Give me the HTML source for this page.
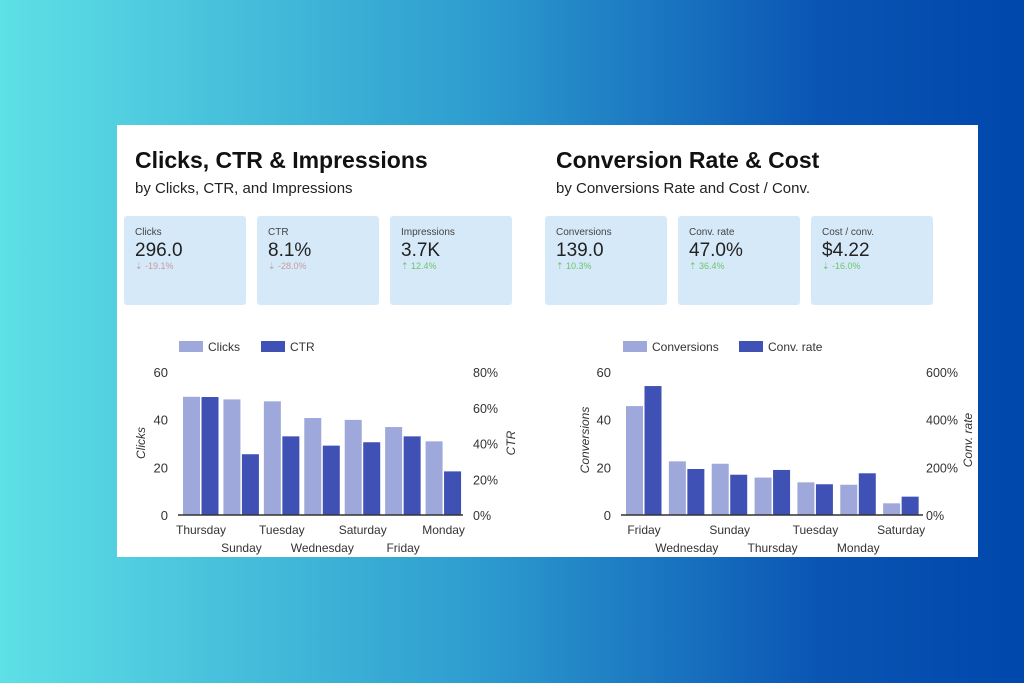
<!DOCTYPE html>
<html><head><meta charset="utf-8"><style>
body{margin:0;width:1024px;height:683px;overflow:hidden;background:linear-gradient(90deg,#5ee0e6 0%,#2f9fd0 45%,#0a55b4 80%,#0047ab 100%);font-family:"Liberation Sans",sans-serif;position:relative}
.card{position:absolute;left:117px;top:125px;width:861px;height:432px;background:#fff}
.t{position:absolute;font-weight:bold;font-size:23px;color:#111}
.s{position:absolute;font-size:15px;color:#222}
.k{position:absolute;width:122px;height:89px;background:#d6e9f9;border-radius:3px}
.k .l{position:absolute;left:11px;top:11px;font-size:10px;color:#444}
.k .v{position:absolute;left:11px;top:24px;font-size:19px;color:#222}
.k .d{position:absolute;left:11px;top:45px;font-size:9px}
svg{position:absolute;left:0;top:0}
</style></head><body>
<div class="card"></div>
<div class="t" style="left:135px;top:147px">Clicks, CTR &amp; Impressions</div>
<div class="s" style="left:135px;top:180px">by Clicks, CTR, and Impressions</div>
<div class="t" style="left:556px;top:147px">Conversion Rate &amp; Cost</div>
<div class="s" style="left:556px;top:180px">by Conversions Rate and Cost / Conv.</div>
<div class="k" style="left:124px;top:216px"><div class="l">Clicks</div><div class="v">296.0</div><div class="d" style="color:#c89b9b">⇣ -19.1%</div></div>
<div class="k" style="left:257px;top:216px"><div class="l">CTR</div><div class="v">8.1%</div><div class="d" style="color:#c89b9b">⇣ -28.0%</div></div>
<div class="k" style="left:390px;top:216px"><div class="l">Impressions</div><div class="v">3.7K</div><div class="d" style="color:#6cc36c">⇡ 12.4%</div></div>
<div class="k" style="left:545px;top:216px"><div class="l">Conversions</div><div class="v">139.0</div><div class="d" style="color:#6cc36c">⇡ 10.3%</div></div>
<div class="k" style="left:678px;top:216px"><div class="l">Conv. rate</div><div class="v">47.0%</div><div class="d" style="color:#6cc36c">⇡ 36.4%</div></div>
<div class="k" style="left:811px;top:216px"><div class="l">Cost / conv.</div><div class="v">$4.22</div><div class="d" style="color:#6cc36c">⇣ -16.0%</div></div>
<svg id="svg" width="1024" height="683"></svg>
<script>
const leftCats=["Thursday","Sunday","Tuesday","Wednesday","Saturday","Friday","Monday"];
const clicks=[49.6,48.5,47.7,40.7,39.9,36.9,30.9];
const ctr=[66,34,44,38.8,40.7,44,24.4];
const leftTicks=["0","20","40","60"];
const leftRTicks=["0%","20%","40%","60%","80%"];
const rightCats=["Friday","Wednesday","Sunday","Thursday","Tuesday","Monday","Saturday"];
const conversions=[45.7,22.5,21.5,15.7,13.7,12.7,4.9];
const convRate=[541,193,169,189,129,175,77];
const rightTicks=["0","20","40","60"];
const rightRTicks=["0%","200%","400%","600%"];

const svg=document.getElementById('svg');
const NS='http://www.w3.org/2000/svg';
function el(t,a,txt){const e=document.createElementNS(NS,t);for(const k in a)e.setAttribute(k,a[k]);if(txt!==undefined)e.textContent=txt;svg.appendChild(e);return e;}
function chart(o){
  const y0=515,y1=372,h=y0-y1;
  const yL=v=>y0-v/o.lmax*h, yR=v=>y0-v/o.rmax*h;
  const n=o.cats.length, step=(o.x1-o.x0)/n;
  o.ticks.forEach((t,i)=>{const e=el('text',{x:o.x0-12,y:y0-i*h/(o.ticks.length-1)+5,'text-anchor':'end','font-size':13,fill:'#333'},t);
    
    });
  o.rticks.forEach((t,i)=>{const e=el('text',{x:o.x1+o.rgap,y:y0-i*h/(o.rticks.length-1)+5,'font-size':12.5,fill:'#333'},t);
    
    });
  o.cats.forEach((c,i)=>{
    const gx=o.x0+i*step+3;
    const b1=el('rect',{x:gx,y:yL(o.a[i]),width:17,height:y0-yL(o.a[i]),fill:'#9fa8da'});
    
    
    const b2=el('rect',{x:gx+18.5,y:yR(o.b[i]),width:17,height:y0-yR(o.b[i]),fill:'#3f51b5'});
    
    
    const lb=el('text',{x:gx+18,y:i%2?552:534,'text-anchor':'middle','font-size':12,fill:'#333'},c);
    
    
  });
  const ax=el('line',{x1:o.x0-2,x2:o.x1,y1:y0,y2:y0,stroke:'#333','stroke-width':1.5});
  
  
  const t1=el('text',{transform:`translate(${o.lt},${o.lty}) rotate(-90)`,'text-anchor':'middle','font-size':12,'font-style':'italic',fill:'#333'},o.ltitle);
  
  
  const t2=el('text',{transform:`translate(${o.rt},${o.rty}) rotate(-90)`,'text-anchor':'middle','font-size':12,'font-style':'italic',fill:'#333'},o.rtitle);
  
  
  [[o.lg,'#9fa8da',o.an],[o.lg2,'#3f51b5',o.bn]].forEach(([x,c,n2])=>{
    const r=el('rect',{x:x,y:341,width:24,height:11,fill:c});
    
    
    const t=el('text',{x:x+29,y:351,'font-size':12,fill:'#333'},n2);
    
    
  });
}
chart({cats:leftCats,a:clicks,b:ctr,lmax:60,rmax:80,ticks:leftTicks,rticks:leftRTicks,x0:180,x1:463,rgap:10,an:'Clicks',bn:'CTR',ltitle:'Clicks',rtitle:'CTR',lt:145,lty:443,rt:515,rty:443,lg:179,lg2:261});
chart({cats:rightCats,a:conversions,b:convRate,lmax:60,rmax:600,ticks:rightTicks,rticks:rightRTicks,x0:623,x1:923,rgap:3,an:'Conversions',bn:'Conv. rate',ltitle:'Conversions',rtitle:'Conv. rate',lt:589,lty:440,rt:972,rty:440,lg:623,lg2:739});
</script>
</body></html>
